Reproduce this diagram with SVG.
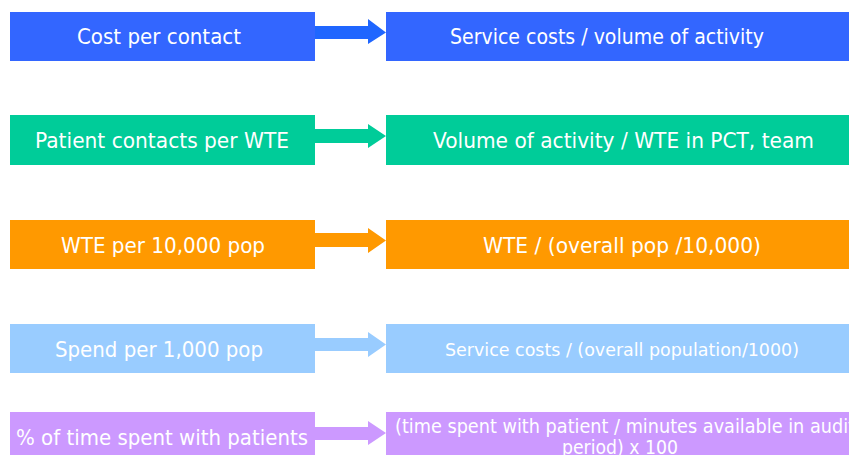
<svg xmlns="http://www.w3.org/2000/svg" width="849" height="455" viewBox="0 0 849 455">
<style>
text{font-family:"DejaVu Sans","Liberation Sans",sans-serif;fill:#fff;font-size:21.5px}
.s{font-size:18px}
.m{font-size:19px}
</style>
<rect width="849" height="455" fill="#fff"/>
<g id="connectors">
<polygon fill="#1F66FF" points="315,26 368,26 368,19 386,32.5 368,44 368,39 315,39"/>
<polygon fill="#00CC99" points="315,129 368,129 368,124 386,136 368,148 368,143 315,143"/>
<polygon fill="#FF9900" points="315,233 368,233 368,228 386,240.5 368,253 368,247 315,247"/>
<polygon fill="#99CCFF" points="315,338 368,338 368,332 386,344.5 368,357 368,351 315,351"/>
<polygon fill="#CC99FF" points="315,427 368,427 368,421 386,433 368,445 368,440 315,440"/>
</g>
<g id="n1"><rect x="10" y="12" width="305" height="49" fill="#3366FF"/><text x="77" y="44" textLength="164" lengthAdjust="spacingAndGlyphs">Cost per contact</text></g>
<g id="n2"><rect x="386" y="12" width="463" height="49" fill="#3366FF"/><text x="450" y="44" textLength="314" lengthAdjust="spacingAndGlyphs">Service costs / volume of activity</text></g>
<g id="n3"><rect x="10" y="115" width="305" height="50" fill="#00CC99"/><text x="35" y="148" textLength="254" lengthAdjust="spacingAndGlyphs">Patient contacts per WTE</text></g>
<g id="n4"><rect x="386" y="115" width="463" height="50" fill="#00CC99"/><text x="433" y="148" textLength="381" lengthAdjust="spacingAndGlyphs">Volume of activity / WTE in PCT, team</text></g>
<g id="n5"><rect x="10" y="220" width="305" height="49" fill="#FF9900"/><text x="61" y="253" textLength="204" lengthAdjust="spacingAndGlyphs">WTE per 10,000 pop</text></g>
<g id="n6"><rect x="386" y="220" width="463" height="49" fill="#FF9900"/><text x="483" y="253" textLength="278" lengthAdjust="spacingAndGlyphs">WTE / (overall pop /10,000)</text></g>
<g id="n7"><rect x="10" y="324" width="305" height="49" fill="#99CCFF"/><text x="55" y="357" textLength="208" lengthAdjust="spacingAndGlyphs">Spend per 1,000 pop</text></g>
<g id="n8"><rect x="386" y="324" width="463" height="49" fill="#99CCFF"/><text class="s" x="445" y="356" textLength="354" lengthAdjust="spacingAndGlyphs">Service costs / (overall population/1000)</text></g>
<g id="n9"><rect x="10" y="412" width="305" height="43" fill="#CC99FF"/><text x="16" y="445" textLength="292" lengthAdjust="spacingAndGlyphs">% of time spent with patients</text></g>
<g id="n10"><rect x="386" y="412" width="463" height="43" fill="#CC99FF"/><text class="m" x="395" y="433" textLength="460" lengthAdjust="spacingAndGlyphs">(time spent with patient / minutes available in audit</text><text class="m" x="562" y="454" textLength="116" lengthAdjust="spacingAndGlyphs">period) x 100</text></g>
</svg>
